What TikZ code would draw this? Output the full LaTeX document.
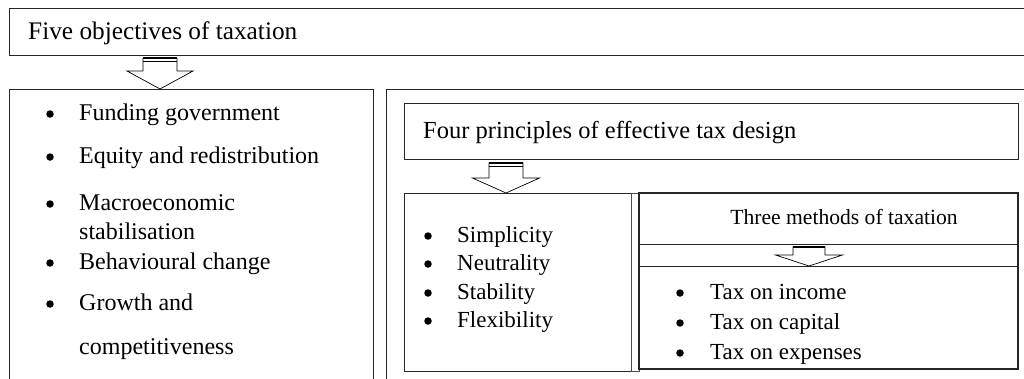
\documentclass[tikz,border=0pt]{standalone}
\usepackage{fontspec}
\setmainfont{Liberation Serif}
\begin{document}
\begin{tikzpicture}[x=1pt,y=-1pt,
  box/.style={draw=black!85, line width=1pt, anchor=north west, inner sep=0pt, outer sep=0pt},
  txt/.style={anchor=mid west, inner sep=0pt},
  bul/.style={circle, fill=black, inner sep=0pt, minimum size=7.5pt},
  blockarrow/.style={draw=black, fill=white, line width=0.7pt, line join=miter},
  topline/.style={line width=1.6pt},
  subline/.style={line width=0.6pt}]
\useasboundingbox (0,0) rectangle (1024,378);
\clip (0,0) rectangle (1024,378);
% boxes
\node[box, minimum width=1040pt, minimum height=47pt] (top) at (9,8) {};
\node[box, minimum width=364pt, minimum height=320pt] (left) at (9,89) {};
\node[box, minimum width=660pt, minimum height=320pt] (right) at (386,89) {};
\node[box, minimum width=614pt, minimum height=56pt] (four) at (404,103) {};
\node[box, minimum width=227pt, minimum height=178pt] (simp) at (404,193) {};
\node[box, draw=black!70, minimum width=8pt, minimum height=178pt] (bar) at (631,193) {};
\node[box, line width=1.4pt, minimum width=379pt, minimum height=176pt] (meth) at (639,193) {};
\node[box, minimum width=379pt, minimum height=51pt] (methhead) at (639,193) {};
\node[box, minimum width=379pt, minimum height=103pt] (methlist) at (639,266) {};
% arrow 1
\coordinate (a1) at (160,89);
\draw[blockarrow] (a1) -- ++(-33,-18) -- ++(16,0) -- ++(0,-13) -- ++(34,0) -- ++(0,13) -- ++(16,0) -- cycle;
\draw[topline] (a1) ++(-17,-31) -- ++(34,0);
\draw[subline] (a1) ++(-17,-28) -- ++(34,0);
% arrow 2
\coordinate (a2) at (506,193);
\draw[blockarrow] (a2) -- ++(-33.5,-15) -- ++(16.5,0) -- ++(0,-15) -- ++(34,0) -- ++(0,15) -- ++(16.5,0) -- cycle;
\draw[topline] (a2) ++(-17,-30) -- ++(34,0);
\draw[subline] (a2) ++(-17,-27) -- ++(34,0);
% arrow 3
\coordinate (a3) at (809,266);
\draw[blockarrow] (a3) -- ++(-33.5,-11) -- ++(17.5,0) -- ++(0,-8) -- ++(32,0) -- ++(0,8) -- ++(17.5,0) -- cycle;
\draw[topline] (a3) ++(-16,-19) -- ++(32,0);
% texts
\node[txt, font=\fontsize{25.3}{30}\selectfont] (ttop) at (28,37) {Five objectives of taxation};
\begin{scope}[font=\fontsize{24}{28}\selectfont]
\node[bul] (b1) at (50,114) {}; \node[txt] (l1) at (79,118) {Funding government};
\node[bul] (b2) at (50,157) {}; \node[txt] (l2) at (79,161) {Equity and redistribution};
\node[bul] (b3) at (50,204) {}; \node[txt] (l3) at (79,208) {Macroeconomic};
\node[txt] (l3b) at (79,237) {stabilisation};
\node[bul] (b4) at (50,263) {}; \node[txt] (l4) at (79,267) {Behavioural change};
\node[bul] (b5) at (50,304) {}; \node[txt] (l5) at (79,308) {Growth and};
\node[txt] (l5b) at (79,352) {competitiveness};
\end{scope}
\node[txt, font=\fontsize{24.5}{29}\selectfont] (tfour) at (423,136) {Four principles of effective tax design};
\begin{scope}[font=\fontsize{23}{27}\selectfont]
\node[bul] (s1b) at (428,236) {}; \node[txt] (s1) at (457,240) {Simplicity};
\node[bul] (s2b) at (428,264) {}; \node[txt] (s2) at (457,268) {Neutrality};
\node[bul] (s3b) at (428,293) {}; \node[txt] (s3) at (457,297) {Stability};
\node[bul] (s4b) at (428,321) {}; \node[txt] (s4) at (457,325) {Flexibility};
\node[bul] (t1b) at (680,293) {}; \node[txt] (t1) at (710,297) {Tax on income};
\node[bul] (t2b) at (680,323) {}; \node[txt] (t2) at (710,327) {Tax on capital};
\node[bul] (t3b) at (680,353) {}; \node[txt] (t3) at (710,357) {Tax on expenses};
\end{scope}
\node[anchor=mid, inner sep=0pt, font=\fontsize{21.6}{26}\selectfont] (tmeth) at (844,222) {Three methods of taxation};
\end{tikzpicture}
\end{document}
